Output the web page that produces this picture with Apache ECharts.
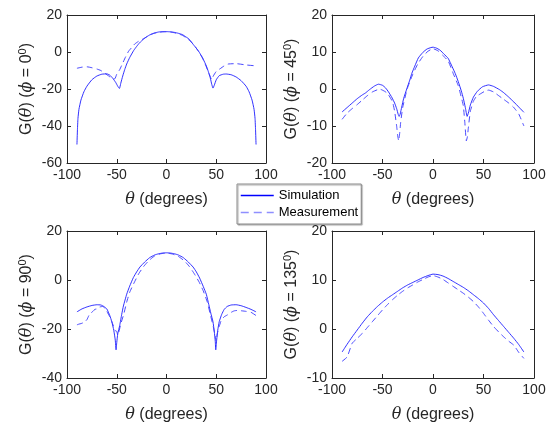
<!DOCTYPE html>
<html>
<head>
<meta charset="utf-8">
<script src="https://cdn.jsdelivr.net/npm/echarts@6/dist/echarts.min.js"></script>
<style>
html, body { margin: 0; padding: 0; background: #fff; }
#main { width: 553px; height: 425px; }
</style>
</head>
<body>
<div id="main"></div>
<script>
// phi = 0
var theta0Sim = [-90,-89.5,-89,-88,-86,-83,-80,-75,-70,-65,-60,-57,-54,-51,-49,-47.3,-46,-44,-42,-40,-37,-33,-30,-27,-23,-20,-16,-12,-8,-4,0,4,8,12,16,20,23,27,30,33,37,40,42,44,45.5,46.7,48,50,53,57,60,65,70,75,80,83,86,88,89,89.5,90];
var gain0Sim = [-50,-42,-36,-31,-26,-21.5,-18.5,-15,-13,-12,-11.8,-12.5,-14.2,-16.5,-18.5,-19.7,-17,-13,-9.5,-6.5,-3,0.8,3,5,7,8.2,9.5,10.3,10.8,11,11,10.9,10.6,10.1,9.4,8,6.8,4,2,-0.2,-4,-7.5,-10.5,-14,-17.5,-19.5,-18,-15,-12.8,-12,-11.9,-12.3,-13.5,-15.5,-18.5,-21.5,-26,-31,-36,-42,-50];
var theta0Meas = [-90,-85,-80,-75,-70,-66,-62,-58,-55,-52,-50,-47,-44,-41,-38,-35,-32,-28,-23,-18,-13,-8,-4,0,4,8,12,16,20,24,28,32,36,40,43,45.5,47,50,54,58,62,70,80,90];
var gain0Meas = [-8.8,-8.2,-8,-8.5,-9.2,-10,-11.5,-13,-14.3,-14.5,-12,-9.5,-6,-2.5,0.5,2.4,4.3,5.8,7.2,8.8,10,10.6,10.9,11,10.8,10.4,9.8,9,7.6,5.8,3.5,0.5,-3,-8,-12,-15,-13,-10.5,-9,-7.5,-6.5,-6.3,-7,-7.5];

// phi = 45
var theta45Sim = [-90,-85,-80,-75,-70,-67,-63,-58,-54,-50,-47,-44,-40.5,-38,-36,-34.5,-33.5,-32.5,-31,-29,-26,-23,-21,-18,-14.5,-10,-6,-2,0,3,7,11,15,19,22,25,28,30,32,33.8,35,37,40,44,49,55,60,66,70,75,80,85,90];
var gain45Sim = [-6.2,-5,-3.8,-2.6,-1.6,-1.1,-0.2,0.8,1.3,1,0.3,-0.8,-2.4,-3.8,-5.3,-6.8,-7.4,-6.8,-4.9,-2.5,0,2.4,4.2,6.2,8.4,9.9,10.8,11.2,11.3,11.1,10.5,9.4,8.3,6,4.2,2,-0.5,-2.5,-5,-7.4,-6.5,-4.3,-2.2,-0.6,0.6,1.1,0.7,-0.2,-1,-2.2,-3.5,-4.9,-6.3];
var theta45Meas = [-90,-85,-80,-75,-70,-65,-60,-55,-52,-48,-45,-42,-40,-38,-36,-35,-34,-33,-32,-30,-27,-25,-20,-15,-10,-5,0,5,10,15,20,25,28,30,31.5,33,34,35,37,40,43,47,52,55,60,65,70,75,80,85,90];
var gain45Meas = [-8.2,-6.5,-5.3,-4.2,-3,-1.8,-0.8,-0.2,-0.1,-0.6,-1.2,-2.5,-3.5,-6,-10,-12.5,-14,-12,-9,-5,-1.5,0.5,4,6.8,8.8,10.2,10.9,10.3,9,7.6,4.2,0.9,-2.2,-4.5,-9,-14,-13,-10.5,-6,-3.3,-2,-1.3,-0.5,-0.3,-0.8,-1.8,-2.8,-3.8,-5,-6.8,-10];

// phi = 90
var theta90Sim = [-90,-85,-80,-75,-70,-66,-63,-60,-57,-55,-53,-51.5,-50.7,-50,-49,-47,-45,-43.3,-40,-37,-33.3,-30,-26.7,-22,-17,-12,-8,-4,0,4,8,12,17,22,26.7,30,33.3,37,40,42.5,44.5,46.7,48,49,49.5,50.3,51.5,53,55.5,58,61,65,70,75,80,85,90];
var gain90Sim = [-13,-11.8,-11,-10.4,-10.1,-10.2,-10.8,-11.8,-14.5,-17,-20.5,-24.5,-28.5,-25.5,-22,-18.5,-14,-10.6,-5.8,-2.5,1,3.3,5.3,7.3,9.1,10.2,10.7,11,11.1,11,10.7,10.2,9.1,7.3,5.3,3.3,0.8,-2.7,-5.8,-10,-13.5,-17,-21,-25,-28.5,-25,-20.5,-17,-14,-12,-10.8,-10.2,-10.1,-10.5,-11.2,-12,-13];
var theta90Meas = [-90,-88,-86,-84,-82,-80,-78,-76,-74,-72,-70,-67,-64,-62,-60,-57,-54,-52,-50,-49,-48,-46,-43,-40,-37,-33,-28,-23,-18,-12,-6,0,6,12,18,23,28,33,37,41,44,47,49,50,51,53,55,58,61,65,68,72,76,80,85,90];
var gain90Meas = [-18.3,-18,-17.8,-17.5,-17,-16.2,-14.5,-13.5,-12.8,-12,-11.8,-11,-10.8,-11.5,-12.8,-15,-18,-20.5,-21,-22.5,-21.5,-18,-14,-9,-5,-1.5,2.5,5.5,7.8,9.8,10.7,11,10.6,9.6,7.8,5.5,2.5,-1,-4.5,-9,-14,-19,-23,-25,-22,-19,-16.5,-15,-14.3,-13.2,-12.6,-12.4,-12.6,-12.8,-13.2,-14.5];

// phi = 135
var theta135Sim = [-90,-85,-80,-75,-70,-65,-60,-55,-50,-45,-40,-35,-30,-25,-20,-15,-10,-5,0,5,10,15,20,25,30,35,40,45,50,55,60,65,70,75,80,85,90];
var gain135Sim = [-4.7,-3.1,-1.6,-0.2,1.2,2.5,3.6,4.6,5.5,6.3,7,7.7,8.4,9,9.5,10,10.5,10.9,11.2,11.1,10.8,10.3,9.7,9.1,8.5,7.8,7,6.2,5.3,4.2,2.9,1.7,0.5,-0.7,-1.9,-3.2,-4.7];
var theta135Meas = [-90,-85,-80,-75,-70,-65,-60,-55,-50,-45,-40,-35,-30,-25,-20,-15,-10,-5,0,5,10,15,20,25,30,35,40,45,50,55,60,65,70,75,80,85,90];
var gain135Meas = [-6.6,-5.7,-2.9,-1.9,-0.9,0.3,1.5,2.7,3.9,5,6,6.9,7.7,8.4,9,9.6,10.1,10.6,10.9,10.6,10.1,9.4,8.7,8,7.3,6.5,5.6,4.5,3.2,1.8,0.5,-0.6,-1.6,-2.5,-3.3,-4.8,-6];

var xTicks = [-100, -50, 0, 50, 100];
var phiLabels = ['0', '45', '90', '135'];
var yRanges = [[-60, 20, 20], [-20, 20, 10], [-40, 20, 20], [-10, 20, 10]];

var seriesNames = ['Simulation', 'Measurement'];

var simData = [[theta0Sim, gain0Sim], [theta45Sim, gain45Sim], [theta90Sim, gain90Sim], [theta135Sim, gain135Sim]];
var measData = [[theta0Meas, gain0Meas], [theta45Meas, gain45Meas], [theta90Meas, gain90Meas], [theta135Meas, gain135Meas]];

function zip(t, v) {
    return t.map(function (x, i) { return [x, v[i]]; });
}

var font = 'Liberation Sans, Arial, Helvetica, sans-serif';
var ink = '#262626';
var boxes = [
    {left: 67, top: 15, width: 199, height: 148},
    {left: 332, top: 15, width: 202, height: 148},
    {left: 67, top: 231, width: 199, height: 147},
    {left: 332, top: 231, width: 202, height: 147}
];

var grids = [], xAxes = [], yAxes = [], series = [];
var richStyles = {
    n: {fontSize: 16, fontFamily: font, color: ink, lineHeight: 20},
    i: {fontSize: 16, fontFamily: 'DejaVu Serif, Liberation Serif, serif', fontStyle: 'italic', color: ink, lineHeight: 20},
    s: {fontSize: 11, fontFamily: font, color: ink, verticalAlign: 'top', lineHeight: 20}
};

boxes.forEach(function (b, k) {
    grids.push(b);
    var r = yRanges[k];
    // bottom x
    xAxes.push({
        gridIndex: k, type: 'value', min: -100, max: 100, interval: 50,
        name: '{i|θ}{n| (degrees)}', nameLocation: 'middle', nameGap: 27,
        nameTextStyle: {rich: richStyles},
        axisLine: {show: true, onZero: false, lineStyle: {color: ink, width: 1}},
        axisTick: {show: true, inside: true, length: 4, lineStyle: {color: ink}},
        axisLabel: {fontSize: 14, fontFamily: font, color: ink, margin: 5},
        splitLine: {show: false}
    });
    // top x (ticks only)
    xAxes.push({
        gridIndex: k, type: 'value', min: -100, max: 100, interval: 50, position: 'top',
        axisLine: {show: true, onZero: false, lineStyle: {color: ink, width: 1}},
        axisTick: {show: true, inside: true, length: 4, lineStyle: {color: ink}},
        axisLabel: {show: false}, splitLine: {show: false}
    });
    yAxes.push({
        gridIndex: k, type: 'value', min: r[0], max: r[1], interval: r[2],
        name: '{n|G(}{i|θ}{n|) (}{i|ϕ}{n| = ' + phiLabels[k] + '}{s|0}{n|)}',
        nameLocation: 'middle', nameGap: 30, nameRotate: 90,
        nameTextStyle: {rich: richStyles},
        axisLine: {show: true, onZero: false, lineStyle: {color: ink, width: 1}},
        axisTick: {show: true, inside: true, length: 4, lineStyle: {color: ink}},
        axisLabel: {fontSize: 14, fontFamily: font, color: ink, margin: 5},
        splitLine: {show: false}
    });
    yAxes.push({
        gridIndex: k, type: 'value', min: r[0], max: r[1], interval: r[2], position: 'right',
        axisLine: {show: true, onZero: false, lineStyle: {color: ink, width: 1}},
        axisTick: {show: true, inside: true, length: 4, lineStyle: {color: ink}},
        axisLabel: {show: false}, splitLine: {show: false}
    });
    series.push({
        name: seriesNames[0], type: 'line', xAxisIndex: 2 * k, yAxisIndex: 2 * k,
        data: zip(simData[k][0], simData[k][1]),
        symbol: 'none', smooth: 0.15, silent: true, animation: false,
        lineStyle: {color: '#1a1aff', width: 0.9, type: 'solid'},
        itemStyle: {color: '#0000ff'}
    });
    series.push({
        name: seriesNames[1], type: 'line', xAxisIndex: 2 * k, yAxisIndex: 2 * k,
        data: zip(measData[k][0], measData[k][1]),
        symbol: 'none', smooth: 0.15, silent: true, animation: false,
        lineStyle: {color: '#3535ff', width: 0.9, type: [6, 4]},
        itemStyle: {color: '#6f6fff'}
    });
});

var myChart = echarts.init(document.getElementById('main'));
myChart.setOption({
    animation: false,
    grid: grids,
    xAxis: xAxes,
    yAxis: yAxes,
    legend: {
        data: [
            {name: 'Simulation', lineStyle: {color: '#0000ff', width: 1.5, type: 'solid'}},
            {name: 'Measurement', lineStyle: {color: '#8f8fff', width: 1.3, type: [8, 5]}}
        ],
        orient: 'vertical',
        left: 237, top: 184,
        itemWidth: 33, itemHeight: 14, itemGap: 4,
        itemStyle: {opacity: 0},
        padding: [5, 3, 5, 3],
        backgroundColor: '#fff',
        borderColor: '#8c8c8c', borderWidth: 1,
        shadowColor: 'rgba(0,0,0,0.35)', shadowOffsetX: 1, shadowOffsetY: 1, shadowBlur: 1,
        textStyle: {fontSize: 13, fontFamily: font, color: '#000'},
        selectedMode: false
    },
    series: series
});
</script>
</body>
</html>
